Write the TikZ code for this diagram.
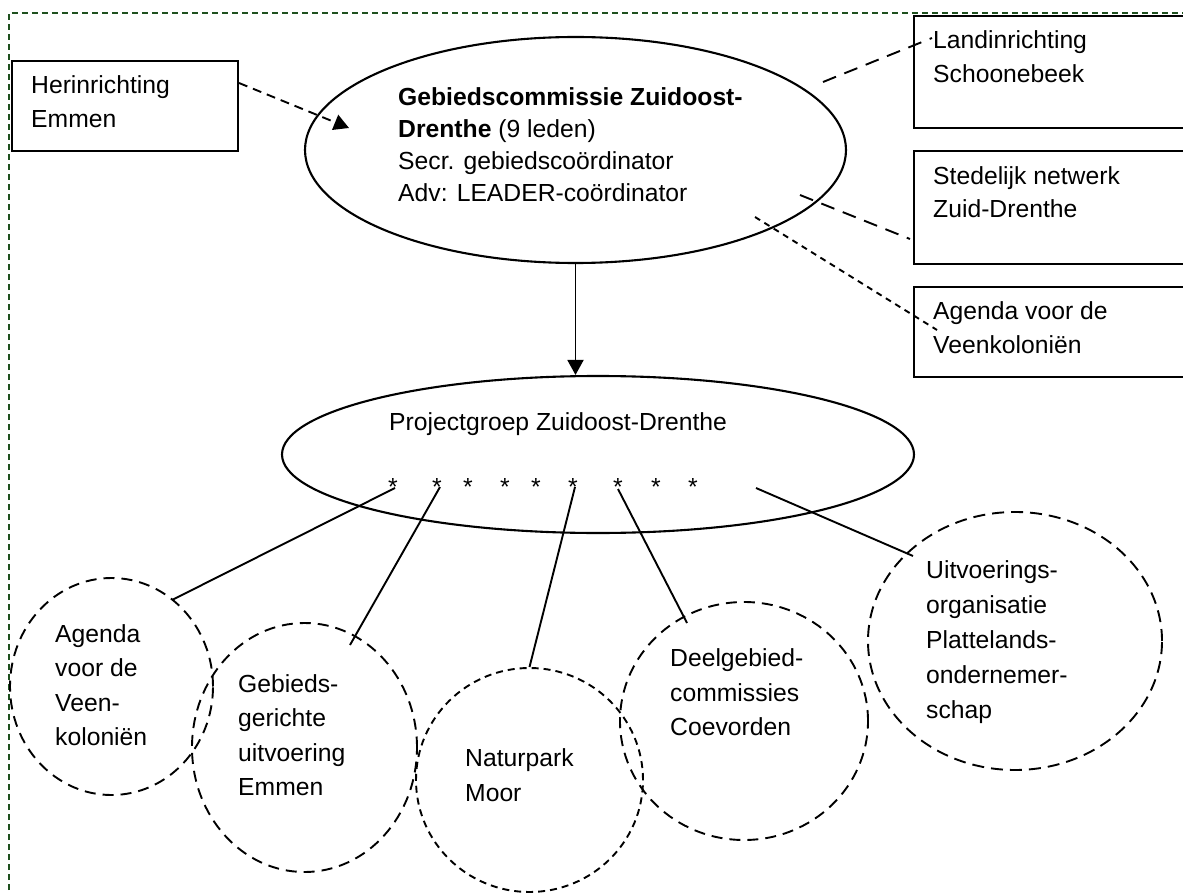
\documentclass[tikz,border=0pt]{standalone}
\usepackage{fontspec}
\setmainfont{Liberation Sans}
\usetikzlibrary{shapes.geometric,arrows.meta,calc}
\definecolor{framegreen}{RGB}{30,80,30}
\begin{document}
\begin{tikzpicture}[x=1pt,y=-1pt,
  txt/.style={font=\fontsize{24.7}{34.5}\selectfont, inner sep=0pt, anchor=west, align=left},
  boxtxt/.style={txt, font=\fontsize{24.7}{33.5}\selectfont},
  ast/.style={font=\fontsize{24.7}{30}\selectfont, inner sep=0pt, anchor=base},
  solidell/.style={draw, ellipse, line width=2.1pt, inner sep=0pt},
  dashcirc/.style={draw, ellipse, line width=1.9pt, inner sep=0pt, dash pattern=on 11pt off 7pt},
  dashcircs/.style={draw, ellipse, line width=1.9pt, inner sep=0pt, dash pattern=on 7pt off 5pt},
  boxst/.style={draw, rectangle, line width=2pt, inner sep=0pt, anchor=north west},
  conn/.style={line width=1.9pt},
  dashA/.style={line width=1.9pt, dash pattern=on 9pt off 6pt},
  dashB/.style={line width=1.9pt, dash pattern=on 14pt off 9pt},
  dashC/.style={line width=1.9pt, dash pattern=on 6pt off 5pt},
  tip/.style={-{Triangle[width=16pt,length=15pt]}}
]
\useasboundingbox (0,0) rectangle (1183,893);
\clip (0,0) rectangle (1183,893);
\fill[white] (0,0) rectangle (1183,893);

% frame
\draw[framegreen, line width=1.5pt, dash pattern=on 6pt off 4pt] (9,1000) -- (9,13) -- (1300,13);

% boxes
\node[boxst, minimum width=226pt, minimum height=90pt] (her) at (11,60) {};
\node[boxst, minimum width=300pt, minimum height=112pt] (b1) at (913,15) {};
\node[boxst, minimum width=300pt, minimum height=113pt] (b2) at (913,150) {};
\node[boxst, minimum width=300pt, minimum height=90pt] (b3) at (913,286) {};

\node[boxtxt] (hert) at (31,101.5) {Herinrichting\\Emmen};
\node[boxtxt] (b1t) at (933,56.5) {Landinrichting\\Schoonebeek};
\node[boxtxt] (b2t) at (933,192) {Stedelijk netwerk\\Zuid-Drenthe};
\node[boxtxt] (b3t) at (933,327.5) {Agenda voor de\\Veenkoloniën};

% ellipses
\node[solidell, minimum width=541pt, minimum height=226pt] (gc) at (575.5,150) {};
\node[txt, font=\fontsize{24.7}{32}\selectfont] (gct) at (398,145)
  {\textbf{Gebiedscommissie Zuidoost-}\\\textbf{Drenthe} (9 leden)\\Secr. gebiedscoördinator\\Adv: LEADER-coördinator};

\node[solidell, minimum width=632pt, minimum height=157pt] (pg) at (598,454.5) {};
\node[txt] (pgt) at (389,424) {Projectgroep Zuidoost-Drenthe};

\foreach \xx [count=\i] in {393,437,468,505,536,573,618,656,693}
  \node[ast] (a\i) at (\xx,495) {*};

% circles
\node[dashcirc, minimum width=203pt, minimum height=217pt] (agd) at (111.5,686.5) {};
\node[dashcirc, minimum width=225pt, minimum height=249pt] (geb) at (304.5,747.5) {};
\node[dashcircs, minimum width=227pt, minimum height=224pt] (nat) at (529.5,780) {};
\node[dashcirc, minimum width=248pt, minimum height=238pt] (dlg) at (744,721) {};
\node[dashcirc, dash pattern=on 12pt off 7pt, minimum width=294pt, minimum height=258pt] (uit) at (1015,641) {};

\node[txt] (agdt) at (55,685) {Agenda\\voor de\\Veen-\\koloniën};
\node[txt] (gebt) at (238,735) {Gebieds-\\gerichte\\uitvoering\\Emmen};
\node[txt, font=\fontsize{24.7}{35}\selectfont] (natt) at (465,775.5) {Naturpark\\Moor};
\node[txt] (dlgt) at (670,692.5) {Deelgebied-\\commissies\\Coevorden};
\node[txt, font=\fontsize{24.7}{35}\selectfont] (uitt) at (926,642.5) {Uitvoerings-\\organisatie\\Plattelands-\\ondernemer-\\schap};

% connectors top
\draw[dashA, tip] ($(her.north east)+(0,23)$) -- ($(gc.center)+(-226.5,-22)$);
\draw[conn, tip] (gc.south) -- (gc.south |- pg.north);
\draw[dashB] ($(gc.center)+(247.5,-68)$) -- ($(b1.north west)+(19,23)$);
\draw[dashB] ($(gc.center)+(224.5,45)$) -- ($(b2.north west)+(-3,89)$);
\draw[dashC] ($(gc.center)+(179.5,67)$) -- ($(b3.north west)+(24,44)$);

% connectors bottom
\coordinate (uitstart) at ($(pg.center)+(158,33.5)$);
\draw[conn] ($(a1.base)+(2,-7)$) -- ($(agd.center)+(60.5,-86.5)$);
\draw[conn] ($(a2.base)+(3,-8)$) -- ($(geb.center)+(45.5,-102.5)$);
\draw[conn] ($(a6.base)+(2,-8)$) -- (nat.north);
\draw[conn] ($(a7.base)+(0,-6)$) -- ($(dlg.center)+(-57,-98)$);
\draw[conn] (uitstart) -- ($(uit.center)+(-102,-85)$);
\end{tikzpicture}
\end{document}
